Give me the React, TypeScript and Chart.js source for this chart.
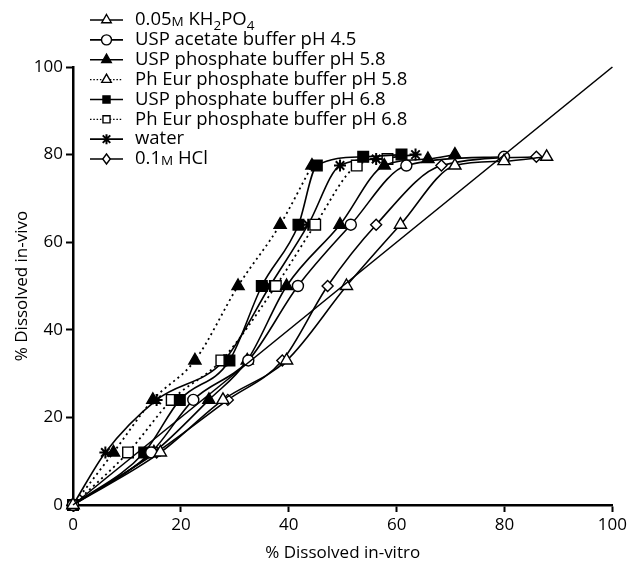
import React, { useEffect, useRef } from "react";
import { Chart, registerables } from "chart.js";

Chart.register(...registerables);

const FONT = "'Open Sans', 'Noto Sans', sans-serif";

// In-vitro (x) and in-vivo (y) values for each dissolution medium
const kh2po4X = [0, 16.2, 27.8, 39.6, 50.7, 60.7, 70.8, 79.9, 87.8];
const kh2po4Y = [0, 12, 24, 33, 50, 64, 77.5, 78.5, 79.5];
const acetateX = [0, 14.5, 22.3, 32.5, 41.7, 51.5, 61.8, 79.9];
const acetateY = [0, 12, 24, 33, 50, 64, 77.5, 79.5];
const usp58X = [0, 15.0, 25.2, 32.3, 39.6, 49.5, 57.7, 65.8, 70.8];
const usp58Y = [0, 12, 24, 33, 50, 64, 77.5, 79, 80];
const phEur58X = [0, 7.5, 14.8, 22.6, 30.6, 38.4, 44.3];
const phEur58Y = [0, 12, 24, 33, 50, 64, 77.5];
const usp68X = [0, 13.2, 19.8, 29.0, 35.0, 41.8, 45.2, 53.8, 60.9];
const usp68Y = [0, 12, 24, 33, 50, 64, 77.5, 79.5, 80];
const phEur68X = [0, 10.2, 18.3, 27.5, 37.6, 44.9, 52.6, 58.3];
const phEur68Y = [0, 12, 24, 33, 50, 64, 77.5, 79];
const waterX = [0, 6.0, 15.5, 28.0, 36.5, 43.6, 49.5, 56.2, 63.5];
const waterY = [0, 12, 24, 33, 50, 64, 77.5, 79, 80];
const hclX = [0, 15.5, 28.7, 38.8, 47.2, 56.2, 68.3, 85.9];
const hclY = [0, 12, 24, 33, 50, 64, 77.5, 79.5];

// Line of unity
const unityX = [0, 100];
const unityY = [0, 100];

const axisMin = 0;
const axisMax = 100;
const tickStep = 20;

const xTitle = "% Dissolved in-vitro";
const yTitle = "% Dissolved in-vivo";

type Piece = { t: string; k: "n" | "sc" | "sub" };

const legendLabels: Piece[][] = [
  [
    { t: "0.05", k: "n" },
    { t: "M", k: "sc" },
    { t: " KH", k: "n" },
    { t: "2", k: "sub" },
    { t: "PO", k: "n" },
    { t: "4", k: "sub" },
  ],
  [{ t: "USP acetate buffer pH 4.5", k: "n" }],
  [{ t: "USP phosphate buffer pH 5.8", k: "n" }],
  [{ t: "Ph Eur phosphate buffer pH 5.8", k: "n" }],
  [{ t: "USP phosphate buffer pH 6.8", k: "n" }],
  [{ t: "Ph Eur phosphate buffer pH 6.8", k: "n" }],
  [{ t: "water", k: "n" }],
  [
    { t: "0.1", k: "n" },
    { t: "M", k: "sc" },
    { t: " HCl", k: "n" },
  ],
];

type SeriesDef = {
  xs: number[];
  ys: number[];
  style: string;
  fill: string;
  legendFill: string;
  dotted: boolean;
  radius: number;
  legendRadius: number;
};

const series: SeriesDef[] = [
  { xs: kh2po4X, ys: kh2po4Y, style: "triangle", fill: "#fff", legendFill: "#fff", dotted: false, radius: 7, legendRadius: 5.5 },
  { xs: acetateX, ys: acetateY, style: "circle", fill: "#fff", legendFill: "#fff", dotted: false, radius: 5.5, legendRadius: 5 },
  { xs: usp58X, ys: usp58Y, style: "triangle", fill: "#000", legendFill: "#000", dotted: false, radius: 7, legendRadius: 5.5 },
  { xs: phEur58X, ys: phEur58Y, style: "triangle", fill: "#000", legendFill: "#fff", dotted: true, radius: 7, legendRadius: 5.5 },
  { xs: usp68X, ys: usp68Y, style: "rect", fill: "#000", legendFill: "#000", dotted: false, radius: 7.5, legendRadius: 5 },
  { xs: phEur68X, ys: phEur68Y, style: "rect", fill: "#fff", legendFill: "#fff", dotted: true, radius: 7.5, legendRadius: 5 },
  { xs: waterX, ys: waterY, style: "star", fill: "#000", legendFill: "#000", dotted: false, radius: 6, legendRadius: 5 },
  { xs: hclX, ys: hclY, style: "rectRot", fill: "#fff", legendFill: "#fff", dotted: false, radius: 5.5, legendRadius: 5 },
];

function drawMarker(ctx: CanvasRenderingContext2D, style: string, x: number, y: number, r: number, fill: string) {
  ctx.save();
  ctx.beginPath();
  ctx.setLineDash([]);
  ctx.lineWidth = 1.4;
  ctx.strokeStyle = "#000";
  ctx.fillStyle = fill;
  if (style === "triangle") {
    ctx.moveTo(x, y - r);
    ctx.lineTo(x + r * 0.866, y + r * 0.5);
    ctx.lineTo(x - r * 0.866, y + r * 0.5);
    ctx.closePath();
    ctx.fill();
    ctx.stroke();
  } else if (style === "circle") {
    ctx.arc(x, y, r, 0, Math.PI * 2);
    ctx.fill();
    ctx.stroke();
  } else if (style === "rect") {
    const s = r * Math.SQRT1_2;
    ctx.rect(x - s, y - s, 2 * s, 2 * s);
    ctx.fill();
    ctx.stroke();
  } else if (style === "rectRot") {
    ctx.moveTo(x, y - r);
    ctx.lineTo(x + r * 0.75, y);
    ctx.lineTo(x, y + r);
    ctx.lineTo(x - r * 0.75, y);
    ctx.closePath();
    ctx.fill();
    ctx.stroke();
  } else if (style === "star") {
    ctx.lineWidth = 2;
    const d = r * 0.75;
    ctx.moveTo(x - d, y - d);
    ctx.lineTo(x + d, y + d);
    ctx.moveTo(x + d, y - d);
    ctx.lineTo(x - d, y + d);
    ctx.moveTo(x, y - r);
    ctx.lineTo(x, y + r);
    ctx.stroke();
  }
  ctx.restore();
}

const legendPlugin = {
  id: "customLegend",
  afterDraw(chart: any) {
    const ctx: CanvasRenderingContext2D = chart.ctx;
    const x0 = 90;
    const x1 = 123;
    const xm = 106.5;
    const tx = 135;
    const top = 20;
    const gap = 19.86;
    ctx.save();
    series.forEach((s, i) => {
      const y = top + i * gap;
      ctx.beginPath();
      ctx.strokeStyle = "#000";
      ctx.lineWidth = s.dotted ? 1.2 : 1.6;
      ctx.setLineDash(s.dotted ? [1.5, 1.8] : []);
      ctx.moveTo(x0, y);
      ctx.lineTo(x1, y);
      ctx.stroke();
      ctx.setLineDash([]);
      drawMarker(ctx, s.style, xm, y, s.legendRadius, s.legendFill);
      let cx = tx;
      ctx.fillStyle = "#000";
      ctx.textBaseline = "middle";
      ctx.textAlign = "left";
      legendLabels[i].forEach((p) => {
        let dy = 0;
        if (p.k === "n") ctx.font = `18.5px ${FONT}`;
        else if (p.k === "sc") {
          ctx.font = `13.5px ${FONT}`;
          dy = 2.3;
        } else {
          ctx.font = `13.5px ${FONT}`;
          dy = 6.5;
        }
        ctx.fillText(p.t, cx, y + dy);
        cx += ctx.measureText(p.t).width;
      });
    });
    ctx.restore();
  },
};

export default function App() {
  const ref = useRef<HTMLCanvasElement | null>(null);

  useEffect(() => {
    document.body.style.margin = "0";
    const canvas = ref.current;
    if (!canvas) return;

    const datasets: any[] = series.map((s) => ({
      data: s.xs.map((x, i) => ({ x, y: s.ys[i] })),
      showLine: true,
      borderColor: "#000",
      borderWidth: s.dotted ? 1.8 : 1.6,
      borderDash: s.dotted ? [2, 3.5] : [],
      cubicInterpolationMode: "monotone",
      pointStyle: s.style,
      pointRadius: s.radius,
      pointBackgroundColor: s.fill,
      pointBorderColor: "#000",
      pointBorderWidth: s.style === "star" ? 2 : 1.4,
      clip: false,
    }));

    datasets.unshift({
      data: unityX.map((x, i) => ({ x, y: unityY[i] })),
      showLine: true,
      borderColor: "#000",
      borderWidth: 1.6,
      pointRadius: 0,
      clip: false,
    });

    const axisCommon = (title: string, pad: any) => ({
      type: "linear",
      min: axisMin,
      max: axisMax,
      ticks: {
        stepSize: tickStep,
        color: "#000",
        font: { size: 17, family: FONT },
        padding: 3,
      },
      grid: {
        display: true,
        drawOnChartArea: false,
        drawTicks: true,
        tickLength: 7,
        tickWidth: 2,
        color: "#000",
      },
      border: { display: true, width: 2.5, color: "#000" },
      title: {
        display: true,
        text: title,
        color: "#000",
        font: { size: 17, family: FONT },
        padding: pad,
      },
    });

    const chart = new Chart(canvas, {
      type: "scatter",
      data: { datasets },
      options: {
        animation: false,
        responsive: false,
        devicePixelRatio: 1,
        layout: { padding: { top: 67, right: 17, left: 0, bottom: 0 } },
        plugins: {
          legend: { display: false },
          tooltip: { enabled: false },
        },
        scales: {
          x: {
            ...axisCommon(xTitle, { top: 0, bottom: 4 }),
            afterFit: (s: any) => {
              s.height = 62;
            },
          },
          y: {
            ...axisCommon(yTitle, { top: 12, bottom: 0 }),
            afterFit: (s: any) => {
              s.width = 73;
            },
          },
        } as any,
      },
      plugins: [legendPlugin],
    } as any);

    return () => chart.destroy();
  }, []);

  return <canvas ref={ref} width={630} height={567} style={{ display: "block" }} />;
}
